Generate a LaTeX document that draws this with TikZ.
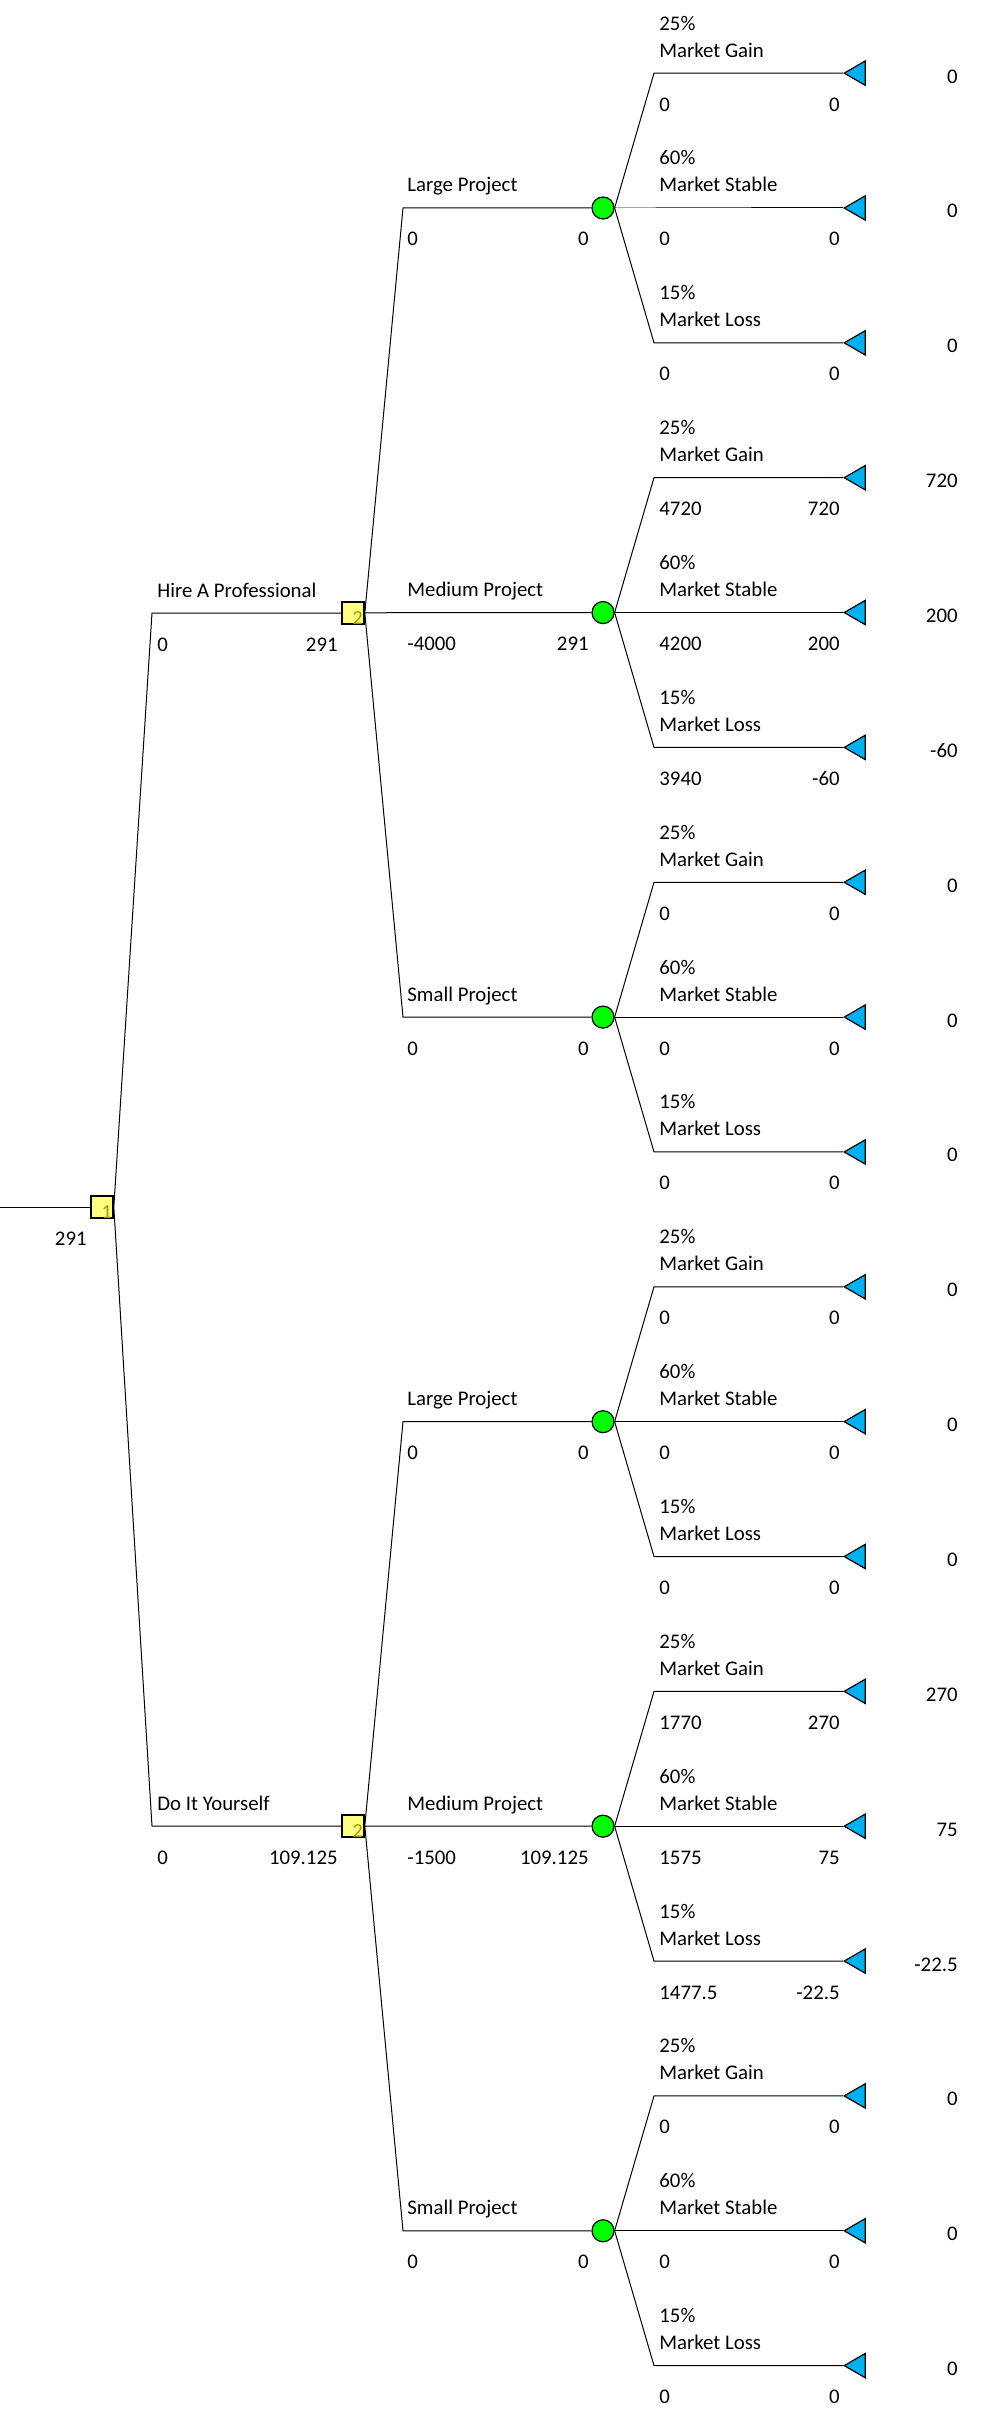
\documentclass[tikz,border=0pt]{standalone}
\usepackage{xcolor}
\usepackage{fontspec}
\setmainfont{Carlito}
\usepackage{tikz}
\usetikzlibrary{
  positioning,
  shapes.geometric,
  calc
}
\definecolor{TreeYellow}{HTML}{FFFF80}
\definecolor{TreeOlive}{HTML}{9A9A00}
\definecolor{TreeGreen}{HTML}{00FF00}
\definecolor{TreeBlue}{HTML}{00B0F0}

\tikzset{
  decisionbox/.style={draw=black,fill=TreeYellow,line width=0.8pt,
                      minimum size=11pt,inner sep=0pt},
  boxnum/.style={anchor=south east,inner sep=0pt,xshift=-0.8pt,yshift=0.2pt,
                 text=TreeOlive,font=\fontsize{10}{10}\selectfont},
  chancedot/.style={circle,draw=black,fill=TreeGreen,line width=0.6pt,
                    minimum size=11pt,inner sep=0pt},
  endtri/.style={regular polygon,regular polygon sides=3,shape border rotate=90,
                 draw=black,fill=TreeBlue,line width=0.6pt,
                 minimum size=14pt,inner sep=0pt,anchor=corner 1},
  branch/.style={line width=0.5pt},
  lbl/.style={inner sep=0pt,font=\fontsize{10.4}{12}\selectfont}
}

\begin{document}
\begin{tikzpicture}[x=0.5pt,y=-0.5pt]
  \useasboundingbox (0,0) rectangle (985,2429);

  % root decision
  \coordinate (start) at (0,1207);
  \node[decisionbox] (d1) at (102,1207) {};
  \node[boxnum] (d1num) at (d1.south east) {1};
  \draw[branch] (start) -- (d1.west);
  \node[lbl,anchor=base east] (rootval) at (87,1245) {291};

  % hire a professional
  \node[decisionbox] (d2a) at (353,613) {};
  \node[boxnum] (d2anum) at (d2a.south east) {2};
  \coordinate (hapbend) at (152,613);
  \draw[branch] (d1.east) -- (hapbend) -- (d2a.west);
  \node[lbl,anchor=base west] (hapname) at (157,597) {Hire A Professional};
  \node[lbl,anchor=base west] (hapval) at (157,651) {0};
  \node[lbl,anchor=base east] (hapcum) at (338,651) {291};

  % do it yourself
  \node[decisionbox] (d2b) at (353,1826) {};
  \node[boxnum] (d2bnum) at (d2b.south east) {2};
  \coordinate (diybend) at (152,1826);
  \draw[branch] (d1.east) -- (diybend) -- (d2b.west);
  \node[lbl,anchor=base west] (diyname) at (157,1810) {Do It Yourself};
  \node[lbl,anchor=base west] (diyval) at (157,1864) {0};
  \node[lbl,anchor=base east] (diycum) at (338,1864) {109.125};

  % project size and market outcomes
  \foreach \nm/\yy/\proj/\pv/\pc/\dn/\ga/\gb/\sa/\sb/\la/\lb in {
      cA/208/Large Project/0/0/d2a/0/0/0/0/0/0,
      cB/612.55/Medium Project/-4000/291/d2a/4720/720/4200/200/3940/-60,
      cC/1017.1/Small Project/0/0/d2a/0/0/0/0/0/0,
      cD/1421.65/Large Project/0/0/d2b/0/0/0/0/0/0,
      cE/1826.2/Medium Project/-1500/109.125/d2b/1770/270/1575/75/1477.5/-22.5,
      cF/2230.75/Small Project/0/0/d2b/0/0/0/0/0/0}{
    \node[chancedot] (\nm) at (603,\yy) {};
    \coordinate (\nm bend) at (403,\yy);
    \draw[branch] (\dn.east) -- (\nm bend) -- (\nm.west);
    \node[lbl,anchor=base west] (\nm name) at (407,\yy-16) {\proj};
    \node[lbl,anchor=base west] (\nm val) at (407,\yy+38) {\pv};
    \node[lbl,anchor=base east] (\nm cum) at (589,\yy+38) {\pc};
    \foreach \k/\pct/\onm/\ov/\oc in {0/25\%/Market Gain/\ga/\gb,
                                       1/60\%/Market Stable/\sa/\sb,
                                       2/15\%/Market Loss/\la/\lb}{
      \pgfmathsetmacro{\oy}{\yy+(\k-1)*134.85}
      \coordinate (\nm o\k) at (654,\oy);
      \node[endtri] (\nm t\k) at (843,\oy) {};
      \draw[branch] (\nm.east) -- (\nm o\k) -- (\nm t\k.corner 1);
      \node[lbl,anchor=base west] (\nm p\k) at (659,\oy-43) {\pct};
      \node[lbl,anchor=base west] (\nm n\k) at (659,\oy-16) {\onm};
      \node[lbl,anchor=base west] (\nm v\k) at (659,\oy+38) {\ov};
      \node[lbl,anchor=base east] (\nm c\k) at (840,\oy+38) {\oc};
      \node[lbl,anchor=base east] (\nm e\k) at (958,\oy+10) {\oc};
    }
  }
\end{tikzpicture}
\end{document}
